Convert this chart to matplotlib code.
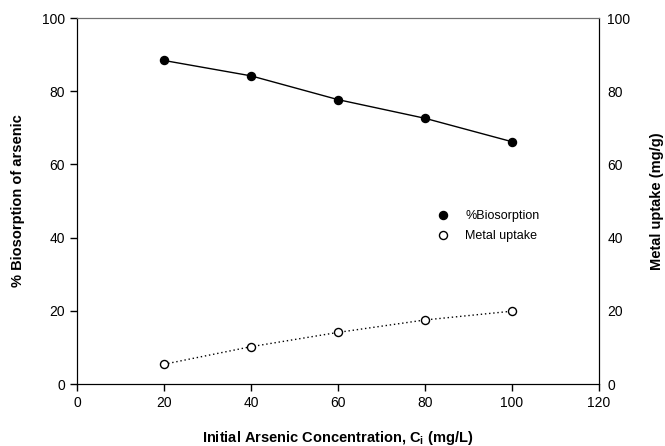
import matplotlib
matplotlib.use("Agg")
import matplotlib.pyplot as plt

# data
conc = [20, 40, 60, 80, 100]
biosorption = [88.4, 84.2, 77.7, 72.6, 66.2]
uptake = [5.4, 10.2, 14.1, 17.5, 19.9]

plt.rcParams['font.family'] = ['Liberation Sans', 'DejaVu Sans']

fig = plt.figure(figsize=(6.65, 4.46), dpi=100)
ax = fig.add_axes([0.1158, 0.139, 0.785, 0.8206])

ax.plot(conc, biosorption, color='black', linewidth=1, marker='o', markersize=5.8,
        markerfacecolor='black', markeredgecolor='black', label='%Biosorption')
ax.plot(conc, uptake, color='black', linewidth=1, linestyle=(0, (1, 2)), marker='o', markersize=5.8,
        markerfacecolor='white', markeredgecolor='black', markeredgewidth=1, label='Metal uptake')

ax.set_xlim(0, 120)
ax.set_ylim(0, 100)
ax.set_xticks(range(0, 121, 20))
ax.set_yticks(range(0, 101, 20))
ax.tick_params(axis='both', direction='out', length=5, width=1, labelsize=10)

ax.set_xlabel('Initial Arsenic Concentration, C$_\\mathregular{i}$ (mg/L)', fontsize=10.5,
              fontweight='bold', labelpad=14)
ax.set_ylabel('% Biosorption of arsenic', fontsize=10.5, fontweight='bold', labelpad=12)

# right axis, same scale
ax2 = ax.twinx()
ax2.set_ylim(0, 100)
ax2.set_yticks(range(0, 101, 20))
ax2.tick_params(axis='y', length=0, pad=6, labelsize=10)
ax2.set_ylabel('Metal uptake (mg/g)', fontsize=10.5, fontweight='bold', labelpad=14)

ax.spines['top'].set_color('#707070')
ax2.spines['top'].set_color('#707070')

ax.legend(loc='upper left', bbox_to_anchor=(0.665, 0.505), frameon=False, fontsize=9,
          handlelength=1.2, handletextpad=1.2, labelspacing=0.6, numpoints=1)
for h in ax.get_legend().get_lines():
    h.set_linestyle('none')

fig.savefig('out.png', dpi=100)
